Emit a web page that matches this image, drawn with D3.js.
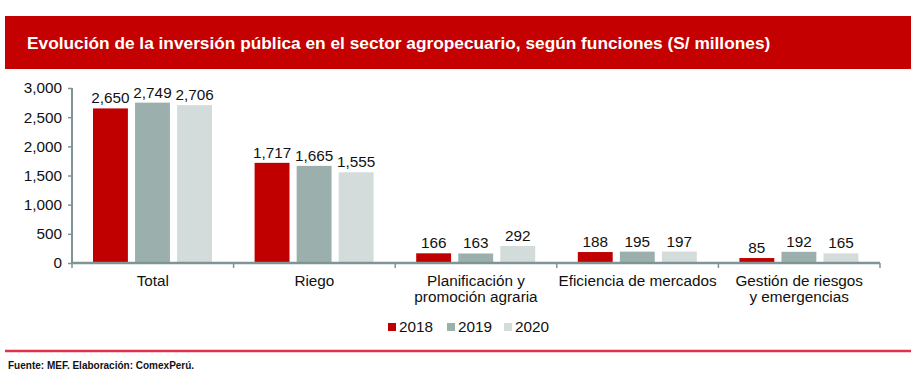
<!DOCTYPE html>
<html><head><meta charset="utf-8">
<script src="https://cdn.jsdelivr.net/npm/d3@7"></script>
<style>body{margin:0;background:#fff}svg{display:block;font-family:"Liberation Sans",Arial,sans-serif}</style>
</head><body>
<script>
const categories = [["Total"],["Riego"],["Planificación y","promoción agraria"],["Eficiencia de mercados"],["Gestión de riesgos","y emergencias"]];
const years = ["2018","2019","2020"];
const v2018 = [2650,1717,166,188,85];
const v2019 = [2749,1665,163,195,192];
const v2020 = [2706,1555,292,197,165];
const yTicks = [0,500,1000,1500,2000,2500,3000];
const colors = ["#c00000","#9bb0ad","#d3dcdb"];
const title = "Evolución de la inversión pública en el sector agropecuario, según funciones (S/ millones)";
const source = "Fuente: MEF. Elaboración: ComexPerú.";

const W=923,H=381, FS=15.3;
const svg=d3.select("body").append("svg").attr("width",W).attr("height",H);
svg.append("rect").attr("x",5).attr("y",16).attr("width",906).attr("height",53).attr("fill","#c40000");
svg.append("text").attr("x",27).attr("y",49).attr("fill","#fff").attr("font-size",17.3).attr("font-weight","bold").text(title);

const x0=d3.scaleBand().domain(d3.range(categories.length)).range([72,880]);
const x1=d3.scaleBand().domain(years).range([21,140]).paddingInner(0.17);
const y=d3.scaleLinear().domain([0,3000]).range([263,88]);
const series=[v2018,v2019,v2020];

const g=svg.append("g");
years.forEach((yr,si)=>{
  series[si].forEach((v,ci)=>{
    const bx=x0(ci)+x1(yr);
    g.append("rect").attr("x",bx).attr("y",y(v)).attr("width",x1.bandwidth()).attr("height",y(0)-y(v)).attr("fill",colors[si]);
    g.append("text").attr("x",bx+x1.bandwidth()/2).attr("y",y(v)-5).attr("text-anchor","middle").attr("font-size",FS).attr("fill","#111").text(d3.format(",")(v));
  });
});

const yAxis=svg.append("g").attr("transform","translate(72,0)").call(d3.axisLeft(y).tickValues(yTicks).tickFormat(d3.format(",")).tickSize(4).tickPadding(6));
yAxis.select(".domain").attr("stroke","#7f9595").attr("stroke-width",2).attr("d","M0,88V263");
yAxis.selectAll(".tick line").attr("stroke","#7f9595").attr("stroke-width",1.5);
yAxis.selectAll(".tick text").attr("font-size",FS).attr("fill","#111").attr("font-family","Liberation Sans, Arial, sans-serif");

const xg=svg.append("g");
xg.append("line").attr("x1",72).attr("x2",880).attr("y1",263).attr("y2",263).attr("stroke","#7f9595").attr("stroke-width",2.5);
d3.range(categories.length+1).forEach(i=>{
  const xx=i<categories.length?x0(i):x0.range()[1];
  xg.append("line").attr("x1",xx).attr("x2",xx).attr("y1",263).attr("y2",268).attr("stroke","#7f9595").attr("stroke-width",1.5);
});
categories.forEach((c,i)=>{
  c.forEach((line,li)=>{
    xg.append("text").attr("x",x0(i)+x0.bandwidth()/2).attr("y",286+li*16).attr("text-anchor","middle").attr("font-size",FS).attr("fill","#111").text(line);
  });
});

const legX=[388,447,504];
years.forEach((yr,i)=>{
  svg.append("rect").attr("x",legX[i]).attr("y",323).attr("width",8).attr("height",8).attr("fill",colors[i]);
  svg.append("text").attr("x",legX[i]+11).attr("y",332).attr("font-size",FS).attr("fill","#111").text(yr);
});

svg.append("line").attr("x1",5).attr("x2",911).attr("y1",351).attr("y2",351).attr("stroke","#e0304e").attr("stroke-width",2.5);
svg.append("text").attr("x",8).attr("y",369).attr("font-size",10).attr("font-weight","bold").attr("fill","#111").text(source);
</script>
</body></html>
